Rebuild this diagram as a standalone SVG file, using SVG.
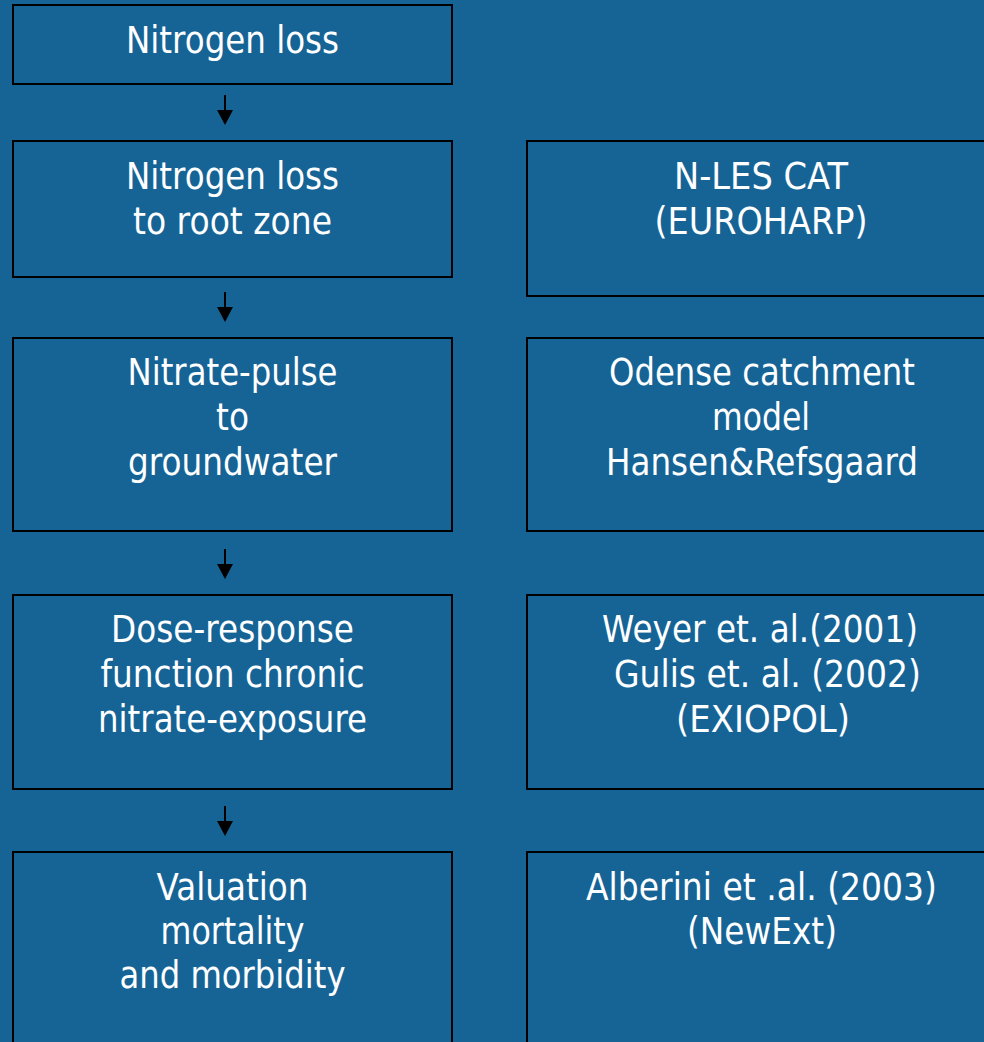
<svg xmlns="http://www.w3.org/2000/svg" width="984" height="1042" viewBox="0 0 984 1042">
<style>
.box{fill:#166496;stroke:#000;stroke-width:2}
.t{font-family:"DejaVu Sans",Verdana,sans-serif;font-size:37px;fill:#fff;text-anchor:middle}
.c{stroke:#000;stroke-width:2;fill:none}
</style>
<defs>
<marker id="ah" viewBox="0 0 16 16" refX="8" refY="16" markerWidth="16" markerHeight="16" markerUnits="userSpaceOnUse" orient="auto-start-reverse">
<path d="M0,0 L16,0 L8,16 Z" fill="#000" transform="rotate(-90 8 8)"/>
</marker>
</defs>
<rect width="984" height="1042" fill="#166496"/>
<g id="n1"><rect class="box" x="13" y="5" width="439" height="79"/>
<text class="t" x="232.5" y="53" textLength="213" lengthAdjust="spacingAndGlyphs">Nitrogen loss</text></g>
<g id="n2"><rect class="box" x="13" y="141" width="439" height="136"/>
<text class="t" x="232.5" y="189" textLength="213" lengthAdjust="spacingAndGlyphs">Nitrogen loss</text>
<text class="t" x="232.5" y="234" textLength="199" lengthAdjust="spacingAndGlyphs">to root zone</text></g>
<g id="n3"><rect class="box" x="13" y="338" width="439" height="193"/>
<text class="t" x="232.5" y="385" textLength="210" lengthAdjust="spacingAndGlyphs">Nitrate-pulse</text>
<text class="t" x="232.5" y="430" textLength="33" lengthAdjust="spacingAndGlyphs">to</text>
<text class="t" x="232.5" y="475" textLength="209" lengthAdjust="spacingAndGlyphs">groundwater</text></g>
<g id="n4"><rect class="box" x="13" y="595" width="439" height="194"/>
<text class="t" x="232.5" y="642" textLength="243" lengthAdjust="spacingAndGlyphs">Dose-response</text>
<text class="t" x="232.5" y="687" textLength="264" lengthAdjust="spacingAndGlyphs">function chronic</text>
<text class="t" x="232.5" y="732" textLength="269" lengthAdjust="spacingAndGlyphs">nitrate-exposure</text></g>
<g id="n5"><rect class="box" x="13" y="852" width="439" height="200"/>
<text class="t" x="232.5" y="900" textLength="152" lengthAdjust="spacingAndGlyphs">Valuation</text>
<text class="t" x="232.5" y="944" textLength="144" lengthAdjust="spacingAndGlyphs">mortality</text>
<text class="t" x="232.5" y="988" textLength="226" lengthAdjust="spacingAndGlyphs">and morbidity</text></g>
<g id="r1"><rect class="box" x="527" y="141" width="468" height="155"/>
<text class="t" x="761" y="189" textLength="174" lengthAdjust="spacingAndGlyphs">N-LES CAT</text>
<text class="t" x="761" y="234" textLength="213" lengthAdjust="spacingAndGlyphs">(EUROHARP)</text></g>
<g id="r2"><rect class="box" x="527" y="338" width="468" height="193"/>
<text class="t" x="762" y="385" textLength="306" lengthAdjust="spacingAndGlyphs">Odense catchment</text>
<text class="t" x="761" y="430" textLength="98" lengthAdjust="spacingAndGlyphs">model</text>
<text class="t" x="762" y="475" textLength="312" lengthAdjust="spacingAndGlyphs">Hansen&amp;Refsgaard</text></g>
<g id="r3"><rect class="box" x="527" y="595" width="468" height="194"/>
<text class="t" x="760" y="642" textLength="316" lengthAdjust="spacingAndGlyphs">Weyer et. al.(2001)</text>
<text class="t" x="767.5" y="687" textLength="307" lengthAdjust="spacingAndGlyphs">Gulis et. al. (2002)</text>
<text class="t" x="763" y="732" textLength="174" lengthAdjust="spacingAndGlyphs">(EXIOPOL)</text></g>
<g id="r4"><rect class="box" x="527" y="852" width="468" height="200"/>
<text class="t" x="761.5" y="900" textLength="351" lengthAdjust="spacingAndGlyphs">Alberini et .al. (2003)</text>
<text class="t" x="762" y="944" textLength="150" lengthAdjust="spacingAndGlyphs">(NewExt)</text></g>
<g id="connectors">
<path class="c" d="M225,95 V110"/><path d="M217,110 H233 L225,125 Z" fill="#000"/>
<path class="c" d="M225,292 V307"/><path d="M217,307 H233 L225,322 Z" fill="#000"/>
<path class="c" d="M225,549 V564"/><path d="M217,564 H233 L225,579 Z" fill="#000"/>
<path class="c" d="M225,806 V821"/><path d="M217,821 H233 L225,836 Z" fill="#000"/>
</g>
</svg>
